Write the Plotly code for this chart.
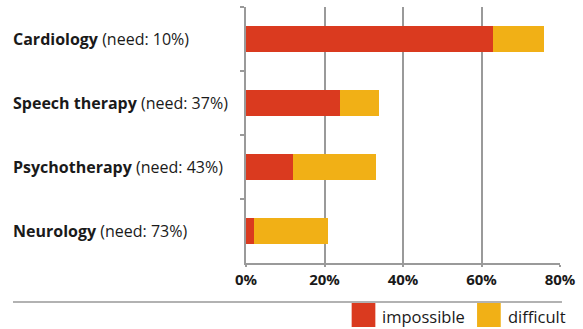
import plotly.graph_objects as go

categories = ["Cardiology", "Speech therapy", "Psychotherapy", "Neurology"]
need = ["10%", "37%", "43%", "73%"]
impossible = [63, 24, 12, 2]
difficult = [13, 10, 21, 19]
x_ticks = [0, 20, 40, 60, 80]
x_tick_labels = ["0%", "20%", "40%", "60%", "80%"]
series_names = ["impossible", "difficult"]
colors = ["#DA3A1F", "#F1B016"]

W, H = 583, 329
L, R, T, B = 246, 19, 7, 66
pw, ph = W - L - R, H - T - B

def px_x(p):
    return (p - L) / pw

def px_y(p):
    return (H - B - p) / ph

fig = go.Figure()
for name, vals, c in zip(series_names, [impossible, difficult], colors):
    fig.add_trace(go.Bar(y=categories, x=vals, orientation="h", name=name,
                         marker=dict(color=c, line=dict(width=0)), showlegend=False))

font_family = "Open Sans, Noto Sans, DejaVu Sans, sans-serif"
annotations = []
for cat, nd in zip(categories, need):
    annotations.append(dict(text=f"<b>{cat}</b> (need: {nd})", x=px_x(8), xref="paper",
                            y=cat, yref="y", xanchor="left", yanchor="middle", showarrow=False,
                            font=dict(size=16, color="#1a1a1a", family=font_family)))

shapes = [dict(type="line", xref="paper", yref="paper", x0=px_x(10), x1=px_x(566),
               y0=px_y(302), y1=px_y(302), line=dict(color="#999999", width=1.5))]
legend_boxes = [(353, 377, 382), (480, 504, 509)]
for (x0, x1, tx), name, c in zip(legend_boxes, series_names, colors):
    shapes.append(dict(type="rect", xref="paper", yref="paper", x0=px_x(x0), x1=px_x(x1),
                       y0=px_y(303), y1=px_y(327), fillcolor=c, line=dict(width=0)))
    annotations.append(dict(text=name, x=px_x(tx), xref="paper", y=px_y(316), yref="paper",
                            xanchor="left", yanchor="middle", showarrow=False,
                            font=dict(size=16.5, color="#1a1a1a", family=font_family)))

fig.update_layout(
    width=W, height=H, margin=dict(l=L, r=R, t=T, b=B),
    paper_bgcolor="white", plot_bgcolor="white",
    barmode="stack", bargap=0.6,
    annotations=annotations, shapes=shapes,
    xaxis=dict(range=[0, 80], tickvals=x_ticks,
               ticktext=[f"<b>{t}</b>" for t in x_tick_labels],
               showgrid=True, gridcolor="#9a9a9a", gridwidth=2, zeroline=False,
               showline=True, linecolor="#9a9a9a", linewidth=2,
               ticks="outside", ticklen=2, tickcolor="#9a9a9a", tickwidth=2,
               tickfont=dict(size=15, color="#1a1a1a", family=font_family),
               fixedrange=True),
    yaxis=dict(categoryorder="array", categoryarray=categories, autorange="reversed",
               showticklabels=False, showgrid=False, zeroline=False,
               showline=True, linecolor="#9a9a9a", linewidth=2,
               ticks="outside", tickson="boundaries", ticklen=4, tickcolor="#9a9a9a", tickwidth=2,
               fixedrange=True),
)

fig.write_html("out.html")
